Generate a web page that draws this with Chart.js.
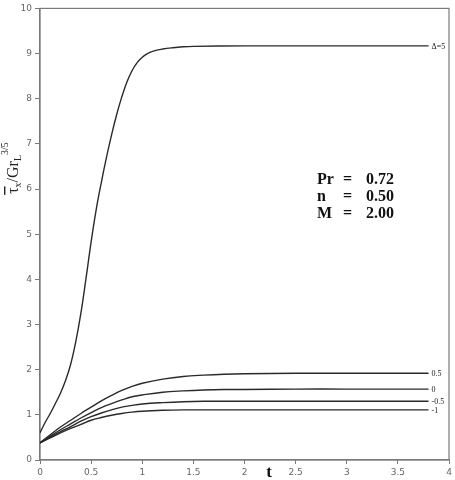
<!DOCTYPE html>
<html>
<head>
<meta charset="utf-8">
<script src="https://cdn.jsdelivr.net/npm/chart.js@4/dist/chart.umd.min.js"></script>
<style>
html,body{margin:0;padding:0;background:#fff;}
#wrap{width:455px;height:480px;}
</style>
</head>
<body>
<div id="wrap"><canvas id="c" width="455" height="480"></canvas></div>
<script>
// ---- data ----
const tMain = [0,0.05,0.1,0.15,0.2,0.25,0.3,0.35,0.4,0.45,0.5,0.55,0.6,0.65,0.7,0.75,0.8,0.85,0.9,0.95,1.0,1.05,1.1,1.2,1.3,1.4,1.5,2.0,2.5,3.0,3.5,3.8];
const delta5 = [0.6,0.83,1.03,1.25,1.48,1.76,2.12,2.62,3.25,4.02,4.83,5.55,6.15,6.7,7.2,7.65,8.04,8.37,8.62,8.8,8.92,9.0,9.05,9.1,9.13,9.15,9.16,9.17,9.17,9.17,9.17,9.17];
const tLow = [0,0.1,0.2,0.3,0.4,0.5,0.6,0.7,0.8,0.9,1.0,1.2,1.4,1.6,1.8,2.0,2.5,3.0,3.5,3.8];
const deltaP05 = [0.38,0.56,0.73,0.88,1.03,1.17,1.31,1.43,1.54,1.63,1.70,1.79,1.85,1.88,1.90,1.91,1.92,1.92,1.92,1.92];
const delta0   = [0.38,0.53,0.67,0.80,0.93,1.05,1.16,1.25,1.33,1.40,1.44,1.50,1.53,1.55,1.56,1.56,1.57,1.57,1.57,1.57];
const deltaM05 = [0.38,0.51,0.63,0.74,0.86,0.96,1.04,1.11,1.17,1.21,1.24,1.27,1.29,1.30,1.30,1.30,1.30,1.30,1.30,1.30];
const deltaM1  = [0.38,0.49,0.60,0.70,0.79,0.88,0.94,0.99,1.03,1.06,1.08,1.10,1.11,1.11,1.11,1.11,1.11,1.11,1.11,1.11];
const seriesLabels = ['\u0394=5','0.5','0','-0.5','-1'];
const xTicks = [0,0.5,1,1.5,2,2.5,3,3.5,4];
const xTickLabels = ['0','0.5','1','1.5','2','2.5','3','3.5','4'];
const yTicks = [0,1,2,3,4,5,6,7,8,9,10];
const yTickLabels = ['0','1','2','3','4','5','6','7','8','9','10'];
const paramNames = ['Pr','n','M'];
const paramValues = ['0.72','0.50','2.00'];

const pts = (xs, ys) => xs.map((x, i) => ({x: x, y: ys[i]}));
const lineStyle = {borderColor:'#2a2a2a', borderWidth:1.4, pointRadius:0, fill:false, tension:0.4};

const datasets = [
  Object.assign({label: seriesLabels[0], data: pts(tMain, delta5)}, lineStyle),
  Object.assign({label: seriesLabels[1], data: pts(tLow, deltaP05)}, lineStyle),
  Object.assign({label: seriesLabels[2], data: pts(tLow, delta0)}, lineStyle),
  Object.assign({label: seriesLabels[3], data: pts(tLow, deltaM05)}, lineStyle),
  Object.assign({label: seriesLabels[4], data: pts(tLow, deltaM1)}, lineStyle)
];

const decor = {
  id: 'decor',
  beforeDatasetsDraw(chart) {
    const {ctx, chartArea: a} = chart;
    ctx.save();
    ctx.strokeStyle = '#7a7a7a';
    ctx.lineWidth = 1.2;
    ctx.strokeRect(a.left, a.top, a.right - a.left, a.bottom - a.top);
    ctx.restore();
  },
  afterDatasetsDraw(chart) {
    const {ctx, chartArea: a, scales} = chart;
    const xs = scales.x, ys = scales.y;
    ctx.save();
    // series end labels
    ctx.fillStyle = '#222';
    ctx.font = '8px "Liberation Serif"';
    ctx.textBaseline = 'middle';
    ctx.textAlign = 'left';
    chart.data.datasets.forEach((ds, i) => {
      const last = ds.data[ds.data.length - 1];
      const px = xs.getPixelForValue(last.x) + 3;
      const py = ys.getPixelForValue(last.y) + 1;
      ctx.fillText(seriesLabels[i], px, py);
    });
    // parameter box
    ctx.font = 'bold 16px "Liberation Serif"';
    ctx.fillStyle = '#111';
    ctx.textBaseline = 'alphabetic';
    for (let i = 0; i < paramNames.length; i++) {
      const y = 184 + i * 17;
      ctx.textAlign = 'left';
      ctx.fillText(paramNames[i], 317, y);
      ctx.fillText('=', 343, y);
      ctx.fillText(paramValues[i], 366, y);
    }
    // x axis title
    ctx.font = 'bold 17px "Liberation Serif"';
    ctx.textAlign = 'center';
    ctx.fillText('t', 269, 477);
    // y axis title (rotated)
    ctx.translate(18, 168);
    ctx.rotate(-Math.PI / 2);
    const big = '16px "Liberation Serif"', small = '10px "Liberation Serif"';
    const parts = [
      {t:'\u03C4', f:big, dy:0, over:true},
      {t:'x', f:small, dy:3},
      {t:'/Gr', f:big, dy:0},
      {t:'L', f:small, dy:3},
      {t:'3/5', f:small, dy:-10}
    ];
    let total = 0;
    parts.forEach(p => { ctx.font = p.f; p.w = ctx.measureText(p.t).width; total += p.w; });
    let x = -total / 2;
    ctx.textAlign = 'left';
    ctx.fillStyle = '#222';
    parts.forEach(p => {
      ctx.font = p.f;
      ctx.fillText(p.t, x, p.dy);
      if (p.over) {
        ctx.fillRect(x - 1, -14, p.w + 2, 1.4);
      }
      x += p.w;
    });
    ctx.restore();
  }
};

new Chart(document.getElementById('c'), {
  type: 'line',
  data: { datasets: datasets },
  plugins: [decor],
  options: {
    responsive: false,
    animation: false,
    layout: { padding: { top: 5, right: 6, left: 0, bottom: 0 } },
    plugins: { legend: { display: false }, tooltip: { enabled: false } },
    scales: {
      x: {
        type: 'linear', min: 0, max: 4,
        afterBuildTicks: s => { s.ticks = xTicks.map(v => ({value: v})); },
        afterFit: s => { s.height = 20; },
        grid: { display: true, drawOnChartArea: false, drawTicks: true, tickLength: 4, color: '#7a7a7a' },
        border: { display: true, color: '#7a7a7a', width: 1.2 },
        ticks: {
          autoSkip: false, maxRotation: 0, padding: 3,
          color: '#666', font: { family: 'DejaVu Sans', size: 9 },
          callback: (v, i) => xTickLabels[i]
        }
      },
      y: {
        type: 'linear', min: 0, max: 10,
        afterBuildTicks: s => { s.ticks = yTicks.map(v => ({value: v})); },
        afterFit: s => { s.width = 40; },
        grid: { display: true, drawOnChartArea: false, drawTicks: true, tickLength: 5, color: '#7a7a7a' },
        border: { display: true, color: '#7a7a7a', width: 1.2 },
        ticks: {
          autoSkip: false, padding: 3,
          color: '#666', font: { family: 'DejaVu Sans', size: 9 },
          callback: (v, i) => yTickLabels[i]
        }
      }
    }
  }
});
</script>
</body>
</html>
